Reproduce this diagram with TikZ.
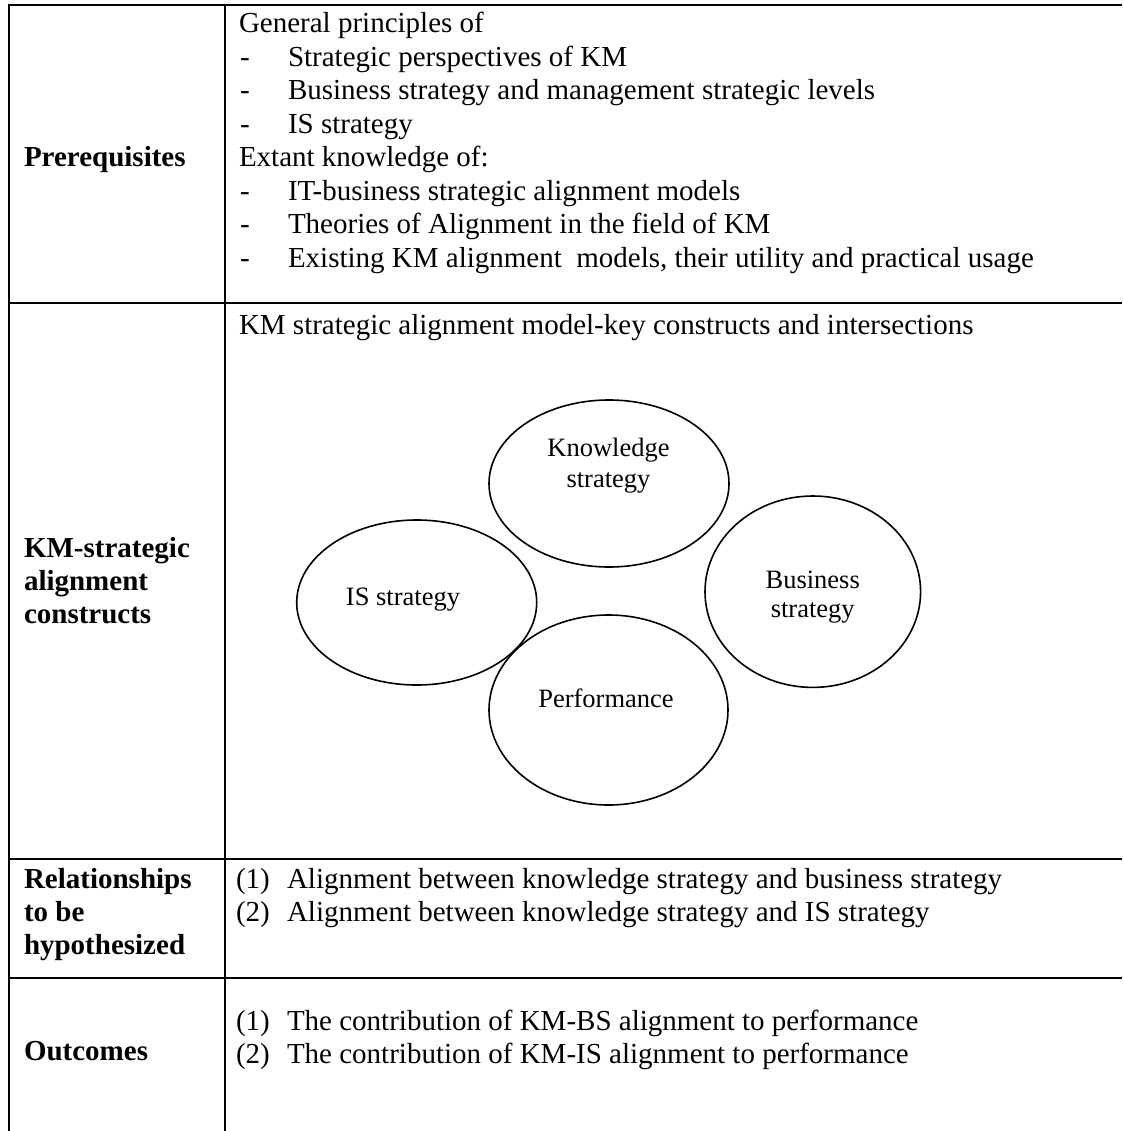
\documentclass[tikz,border=0pt]{standalone}
\usepackage{fontspec}
\setmainfont{Liberation Serif}
\usetikzlibrary{shapes.geometric}
\begin{document}
\begin{tikzpicture}[x=1pt,y=-1pt,
  rule/.style={line width=2.4pt},
  txt/.style={anchor=base west, inner sep=0pt, outer sep=0pt, font=\fontsize{29}{33.4}\selectfont},
  lbl/.style={txt, font=\fontsize{29}{33.4}\selectfont\bfseries},
  bubble/.style={draw, ellipse, line width=1.6pt, inner sep=0pt, outer sep=0pt},
  btxt/.style={anchor=base, inner sep=0pt, outer sep=0pt, font=\fontsize{26.5}{30.5}\selectfont}]
\useasboundingbox (0,0) rectangle (1122,1131);

% table rules (open on the right and at the bottom)
\coordinate (r0l) at (9,5);    \coordinate (r0r) at (1122,5);
\coordinate (r1l) at (9,303);  \coordinate (r1r) at (1122,303);
\coordinate (r2l) at (9,859);  \coordinate (r2r) at (1122,859);
\coordinate (r3l) at (9,978);  \coordinate (r3r) at (1122,978);
\coordinate (vlt) at (9,3.8);    \coordinate (vlb) at (9,1131);
\coordinate (vmt) at (225,3.8);  \coordinate (vmb) at (225,1131);
\draw[rule] (r0l) -- (r0r);
\draw[rule] (r1l) -- (r1r);
\draw[rule] (r2l) -- (r2r);
\draw[rule] (r3l) -- (r3r);
\draw[rule] (vlt) -- (vlb);
\draw[rule] (vmt) -- (vmb);

% row 1: prerequisites
\node[lbl] (lpre) at (24,167) {Prerequisites};
\node[txt] (p0) at (239,33) {General principles of};
\node[txt] (p1d) at (240,66.5) {-};   \node[txt] (p1) at (288,66.5) {Strategic perspectives of KM};
\node[txt] (p2d) at (240,100) {-};    \node[txt] (p2) at (288,100) {Business strategy and management strategic levels};
\node[txt] (p3d) at (240,133.5) {-};  \node[txt] (p3) at (288,133.5) {IS strategy};
\node[txt] (p4) at (239,167) {Extant knowledge of:};
\node[txt] (p5d) at (240,200.5) {-};  \node[txt] (p5) at (288,200.5) {IT-business strategic alignment models};
\node[txt] (p6d) at (240,234) {-};    \node[txt] (p6) at (288,234) {Theories of Alignment in the field of KM};
\node[txt] (p7d) at (240,267.5) {-};  \node[txt] (p7) at (288,267.5) {Existing KM alignment\ \ models, their utility and practical usage};

% row 2: constructs
\node[lbl] (lkm1) at (24,557) {KM-strategic};
\node[lbl] (lkm2) at (24,590.4) {alignment};
\node[lbl] (lkm3) at (24,623.8) {constructs};
\node[txt] (kmt) at (239,334) {KM strategic alignment model-key constructs and intersections};

\node[bubble, minimum width=240, minimum height=167] (ks) at (609,483.5) {};
\node[bubble, minimum width=240, minimum height=165] (is) at (416.7,602.5) {};
\node[bubble, minimum width=239, minimum height=190] (pf) at (608.5,710) {};
\node[bubble, minimum width=215.6, minimum height=191.4] (bs) at (812.8,591.7) {};

\node[btxt] (kst1) at (608.5,456) {Knowledge};
\node[btxt] (kst2) at (608.5,487) {strategy};
\node[btxt] (ist) at (403,605) {IS strategy};
\node[btxt] (pft) at (606,707.5) {Performance};
\node[btxt] (bst1) at (812.7,588) {Business};
\node[btxt] (bst2) at (812.7,617.5) {strategy};

% row 3: relationships
\node[lbl] (lrel1) at (24,888) {Relationships};
\node[lbl] (lrel2) at (24,921.4) {to be};
\node[lbl] (lrel3) at (24,954.8) {hypothesized};
\node[txt] (h1n) at (236,888) {(1)};   \node[txt] (h1) at (287,888) {Alignment between knowledge strategy and business strategy};
\node[txt] (h2n) at (236,921.4) {(2)}; \node[txt] (h2) at (287,921.4) {Alignment between knowledge strategy and IS strategy};

% row 4: outcomes
\node[lbl] (lout) at (24,1060) {Outcomes};
\node[txt] (o1n) at (236,1030) {(1)};   \node[txt] (o1) at (287,1030) {The contribution of KM-BS alignment to performance};
\node[txt] (o2n) at (236,1063.4) {(2)}; \node[txt] (o2) at (287,1063.4) {The contribution of KM-IS alignment to performance};
\end{tikzpicture}
\end{document}
